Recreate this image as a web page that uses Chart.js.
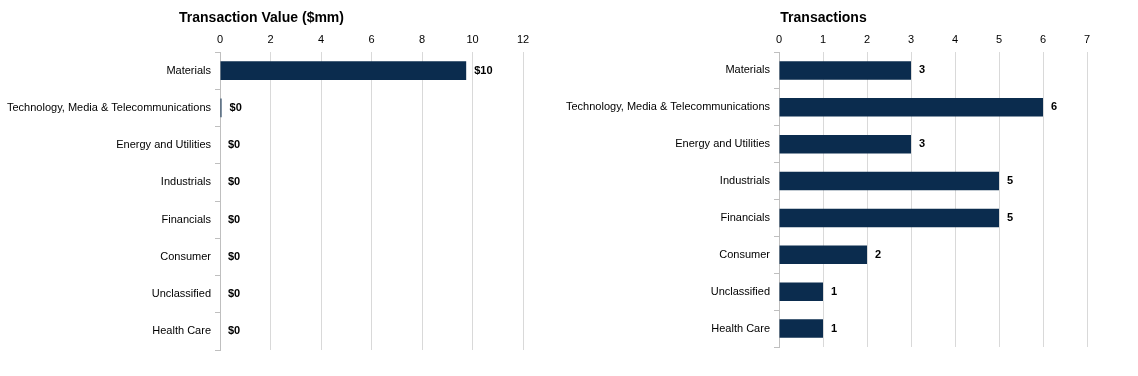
<!DOCTYPE html>
<html>
<head>
<meta charset="utf-8">
<script src="https://cdn.jsdelivr.net/npm/chart.js"></script>
<style>
  body { margin: 0; background: #fff; }
  .wrap { position: absolute; top: 0; height: 376px; width: 545px; }
</style>
</head>
<body>
<div class="wrap" style="left:0"><canvas id="valueChart"></canvas></div>
<div class="wrap" style="left:560px"><canvas id="countChart"></canvas></div>
<script>
    // Sektorer og verdier lest fra figuren
    const sectors = ['Materials', 'Technology, Media & Telecommunications', 'Energy and Utilities', 'Industrials', 'Financials', 'Consumer', 'Unclassified', 'Health Care'];
    const transactionValues = [9.75, 0.06, 0, 0, 0, 0, 0, 0];
    const transactionCounts = [3, 6, 3, 5, 5, 2, 1, 1];
    const valueTicks = [0, 2, 4, 6, 8, 10, 12];
    const countTicks = [0, 1, 2, 3, 4, 5, 6, 7];

    const barColor = '#0b2c4e';
    const fontFamily = '"Liberation Sans", Arial, sans-serif';
    Chart.defaults.font.family = fontFamily;
    Chart.defaults.color = '#000';

    // Etiketter ved enden av hver stolpe
    const barLabels = {
        id: 'barLabels',
        afterDatasetsDraw(chart, args, opts) {
            const ctx = chart.ctx;
            const meta = chart.getDatasetMeta(0);
            const data = chart.data.datasets[0].data;
            ctx.save();
            ctx.font = 'bold 11px ' + fontFamily;
            ctx.fillStyle = '#000';
            ctx.textBaseline = 'middle';
            ctx.textAlign = 'left';
            meta.data.forEach((bar, i) => {
                ctx.fillText(opts.format(data[i]), bar.x + 8, bar.y);
            });
            ctx.restore();
        }
    };

    function makeChart(id, title, values, ticks, axisWidth, padRight, padBottom, format) {
        return new Chart(document.getElementById(id), {
            type: 'bar',
            data: {
                labels: sectors,
                datasets: [{
                    data: values,
                    backgroundColor: barColor,
                    borderWidth: 0,
                    barPercentage: 0.5,
                    categoryPercentage: 1
                }]
            },
            options: {
                indexAxis: 'y',
                responsive: true,
                maintainAspectRatio: false,
                animation: false,
                layout: { padding: { left: 0, right: padRight, top: 0, bottom: padBottom } },
                plugins: {
                    legend: { display: false },
                    tooltip: { enabled: false },
                    title: {
                        display: true,
                        text: title,
                        color: '#000',
                        font: { size: 14, weight: 'bold' },
                        padding: { top: 10, bottom: 2 }
                    },
                    barLabels: { format: format }
                },
                scales: {
                    x: {
                        position: 'top',
                        min: ticks[0],
                        max: ticks[ticks.length - 1],
                        afterBuildTicks: scale => { scale.ticks = ticks.map(v => ({ value: v })); },
                        ticks: { font: { size: 11 }, padding: 5, color: '#000' },
                        grid: { color: '#d9d9d9', drawTicks: false },
                        border: { display: false }
                    },
                    y: {
                        afterFit: scale => { scale.width = axisWidth; },
                        ticks: { font: { size: 11 }, padding: 4, color: '#000' },
                        grid: { drawOnChartArea: false, drawTicks: true, tickLength: 5, color: '#bfbfbf' },
                        border: { display: true, color: '#bfbfbf' }
                    }
                }
            },
            plugins: [barLabels]
        });
    }

    makeChart('valueChart', 'Transaction Value ($mm)', transactionValues, valueTicks, 220, 22, 26,
        v => '$' + Math.round(v));
    makeChart('countChart', 'Transactions', transactionCounts, countTicks, 219, 18, 29,
        v => String(v));
</script>
</body>
</html>
